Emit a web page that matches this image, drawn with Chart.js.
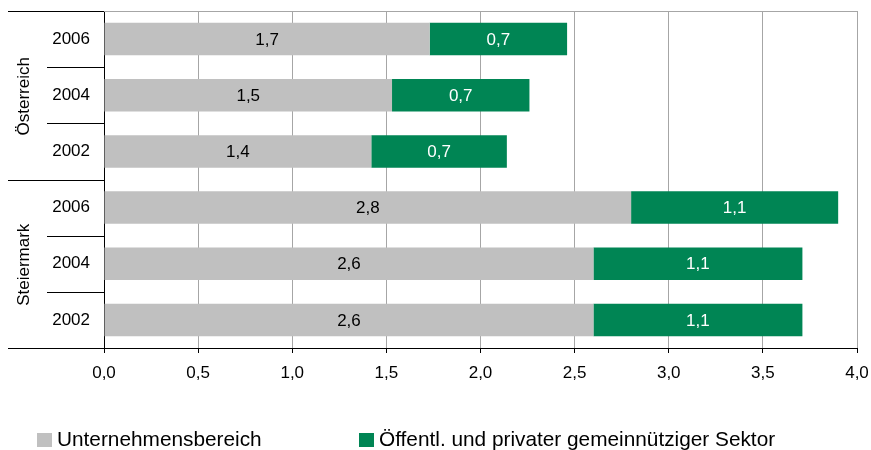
<!DOCTYPE html>
<html lang="de">
<head>
<meta charset="utf-8">
<title>Forschungsausgaben nach Sektor</title>
<script src="https://cdn.jsdelivr.net/npm/chart.js@4.4.1/dist/chart.umd.min.js"></script>
<style>
  html, body { margin: 0; padding: 0; background: #fff; overflow: hidden; }
  #wrap { position: relative; width: 871px; height: 450px; }
  #legend { position: absolute; left: 0; top: 0; width: 871px; height: 450px; pointer-events: none;
            font-family: 'Liberation Sans', Arial, sans-serif; font-size: 20.8px; color: #000; }
  #legend .item { position: absolute; top: 428px; line-height: 22px; white-space: nowrap; }
  #legend .box { position: absolute; top: 5px; width: 15px; height: 14px; }
</style>
</head>
<body>
<div id="wrap">
  <canvas id="researchChart" width="871" height="400"></canvas>
  <div id="legend"></div>
</div>
<script>
// Rows top to bottom: Österreich 2006/2004/2002, then Steiermark 2006/2004/2002
const years = ['2006', '2004', '2002', '2006', '2004', '2002'];
const regions = ['Österreich', 'Steiermark'];
const rowsPerRegion = 3;

const seriesNames = ['Unternehmensbereich', 'Öffentl. und privater gemeinnütziger Sektor'];
const businessValues = [1.73, 1.53, 1.42, 2.80, 2.60, 2.60];
const publicValues = [0.73, 0.73, 0.72, 1.10, 1.11, 1.11];

const xTicks = [0, 0.5, 1.0, 1.5, 2.0, 2.5, 3.0, 3.5, 4.0];

const GRAY = '#c0c0c0';
const GREEN = '#008554';
const FONT = "'Liberation Sans', Arial, sans-serif";

function deNumber(v) {
  return v.toFixed(1).replace('.', ',');
}

// Value labels centred inside each bar segment
const barLabels = {
  id: 'barLabels',
  afterDatasetsDraw(chart) {
    const ctx = chart.ctx;
    ctx.save();
    ctx.font = '17px ' + FONT;
    ctx.textAlign = 'center';
    ctx.textBaseline = 'middle';
    chart.data.datasets.forEach((ds, di) => {
      const meta = chart.getDatasetMeta(di);
      meta.data.forEach((bar, i) => {
        const c = bar.getCenterPoint();
        ctx.fillStyle = ds.labelColor;
        ctx.fillText(deNumber(ds.data[i]), c.x, c.y + 1);
      });
    });
    ctx.restore();
  }
};

// Two-level category axis: dividers between years and regions, rotated region names
const regionAxis = {
  id: 'regionAxis',
  afterDraw(chart) {
    const ctx = chart.ctx;
    const y = chart.scales.y;
    const area = chart.chartArea;
    const n = years.length;
    const boundary = i => {
      if (i === 0) return y.top;
      if (i === n) return y.bottom;
      return (y.getPixelForValue(i - 1) + y.getPixelForValue(i)) / 2;
    };
    ctx.save();

    // top frame line of the plot
    ctx.strokeStyle = '#a6a6a6';
    ctx.lineWidth = 1;
    ctx.beginPath();
    ctx.moveTo(area.left, Math.round(area.top) + 0.5);
    ctx.lineTo(area.right, Math.round(area.top) + 0.5);
    ctx.stroke();

    ctx.strokeStyle = '#000';
    for (let i = 0; i <= n; i++) {
      const by = Math.round(boundary(i)) + 0.5;
      const startX = (i % rowsPerRegion === 0) ? 8 : 47;
      ctx.beginPath();
      ctx.moveTo(startX, by);
      ctx.lineTo(area.left, by);
      ctx.stroke();
    }

    ctx.fillStyle = '#000';
    ctx.font = '17px ' + FONT;
    ctx.textAlign = 'center';
    ctx.textBaseline = 'middle';
    regions.forEach((name, r) => {
      const cy = (boundary(r * rowsPerRegion) + boundary((r + 1) * rowsPerRegion)) / 2;
      ctx.save();
      ctx.translate(24, cy + 1);
      ctx.rotate(-Math.PI / 2);
      ctx.fillText(name, 0, 0);
      ctx.restore();
    });
    ctx.restore();
  }
};

const chart = new Chart(document.getElementById('researchChart'), {
  type: 'bar',
  data: {
    labels: years,
    datasets: [
      {
        label: seriesNames[0],
        data: businessValues,
        backgroundColor: GRAY,
        labelColor: '#000'
      },
      {
        label: seriesNames[1],
        data: publicValues,
        backgroundColor: GREEN,
        labelColor: '#fff'
      }
    ]
  },
  options: {
    indexAxis: 'y',
    responsive: false,
    animation: false,
    layout: { padding: { top: 11, right: 14, left: 0, bottom: 0 } },
    datasets: {
      bar: { barPercentage: 1, categoryPercentage: 0.58, borderWidth: 0 }
    },
    scales: {
      x: {
        stacked: true,
        min: 0,
        max: 4,
        afterBuildTicks(scale) {
          scale.ticks = xTicks.map(v => ({ value: v }));
        },
        afterFit(scale) {
          scale.height = 52;
          scale.paddingLeft = 0;
          scale.paddingRight = 0;
        },
        grid: {
          color: '#a6a6a6',
          tickColor: '#000',
          tickLength: 5,
          lineWidth: 1
        },
        border: { color: '#000', width: 1 },
        ticks: {
          padding: 10,
          color: '#000',
          font: { family: FONT, size: 17 },
          maxRotation: 0,
          callback: v => deNumber(v)
        }
      },
      y: {
        stacked: true,
        afterFit(scale) {
          scale.width = 104;
          scale.paddingTop = 0;
          scale.paddingBottom = 0;
        },
        grid: { display: false, drawTicks: false },
        border: { color: '#000', width: 1 },
        ticks: {
          padding: 14,
          color: '#000',
          font: { family: FONT, size: 17 }
        }
      }
    },
    plugins: {
      legend: { display: false },
      tooltip: { enabled: false }
    }
  },
  plugins: [barLabels, regionAxis]
});

// Legend below the chart
const legendEl = document.getElementById('legend');
const legendLeft = [37, 359];
chart.data.datasets.forEach((ds, i) => {
  const item = document.createElement('div');
  item.className = 'item';
  item.style.left = legendLeft[i] + 'px';
  item.style.paddingLeft = '20px';
  const box = document.createElement('span');
  box.className = 'box';
  box.style.left = '0px';
  box.style.background = ds.backgroundColor;
  item.appendChild(box);
  item.appendChild(document.createTextNode(ds.label));
  legendEl.appendChild(item);
});
</script>
</body>
</html>
